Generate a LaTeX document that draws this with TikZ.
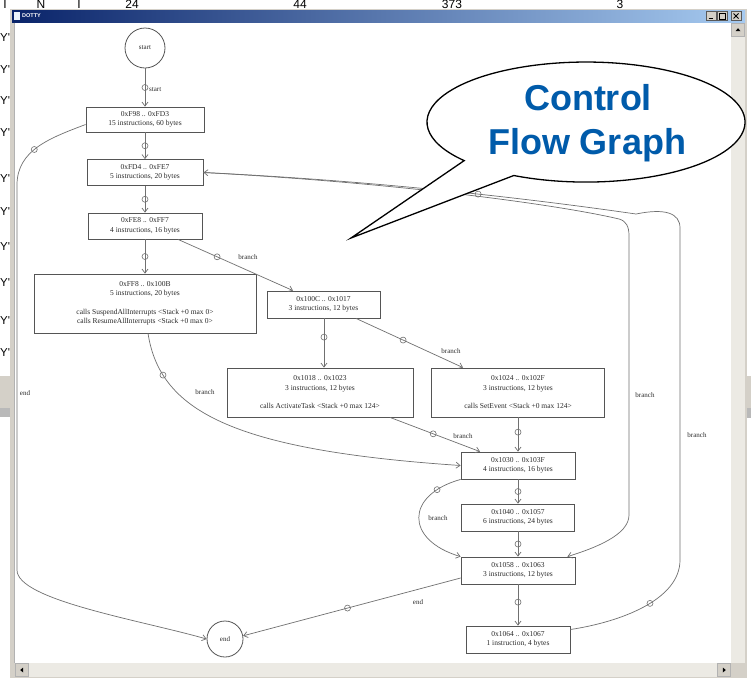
\documentclass[tikz,border=0pt]{standalone}
\usepackage{fontspec}
\setmainfont{Liberation Serif}
\newfontfamily\arialfont{Liberation Sans}
\usetikzlibrary{arrows.meta,shapes.geometric}
\definecolor{edgec}{HTML}{707070}
\definecolor{boxc}{HTML}{555555}
\definecolor{txtc}{HTML}{2A2A2A}
\definecolor{cfgblue}{HTML}{005BAA}
\definecolor{winbg}{HTML}{D4D0C8}
\definecolor{scrollc}{HTML}{ECEAE4}
\definecolor{tbdark}{HTML}{0A246A}
\definecolor{tblight}{HTML}{A6CAF0}
\tikzset{
  blk/.style={draw=boxc, line width=0.8pt, rectangle, inner sep=0pt, align=center, text=txtc, font=\fontsize{7.5}{9.5}\selectfont},
  circ/.style={draw=boxc, line width=0.8pt, circle, inner sep=0pt, text=txtc, font=\fontsize{7}{8}\selectfont},
  cfe/.style={draw=edgec, line width=0.7pt, -{Straight Barb[length=4pt,width=6pt]}},
  mk/.style={draw=edgec, line width=0.6pt, circle, inner sep=0pt, minimum size=6pt},
  lbl/.style={text=txtc, font=\fontsize{7}{8}\selectfont, inner sep=0pt},
  behind/.style={font=\arialfont\fontsize{12}{12}\selectfont, inner sep=0pt, anchor=base},
  ymark/.style={font=\arialfont\fontsize{11.5}{12}\selectfont, inner sep=0pt, anchor=base west},
}
\begin{document}
\begin{tikzpicture}[x=1pt,y=-1pt]
\useasboundingbox (0,0) rectangle (751,678);
\fill[white] (0,0) rectangle (751,678);
% --- slide content behind the window ---
\node[behind] (tA) at (5,8.8) {I};
\node[behind] (tB) at (41,8.8) {N};
\node[behind] (tC) at (79,8.8) {I};
\node[behind] (tD) at (132,8.8) {24};
\node[behind] (tE) at (300,8.8) {44};
\node[behind] (tF) at (452,8.8) {373};
\node[behind] (tG) at (620,8.8) {3};
\foreach \yy [count=\i] in {41,73,104,136,182,215,250,286,324,356}{
  \node[ymark] (y\i) at (0,\yy) {Y'};
}
\fill[winbg] (0,376) rectangle (10,417);
\fill[gray!55] (0,408) rectangle (10,417);
\fill[winbg] (746,376) rectangle (751,418);
\fill[gray!55] (746,408) rectangle (751,418);
% --- window ---
\fill[winbg] (10,9) rectangle (747,678);
\shade[left color=tbdark, right color=tblight] (12,10) rectangle (745,22);
\fill[white!80!tblight] (13.5,11.5) rectangle (20,19.5);
\node[font=\arialfont\bfseries\fontsize{5.5}{6}\selectfont, text=white, anchor=west, inner sep=0pt] (ttl) at (22,16) {DOTTY};
\foreach \bx/\bn in {706/bmin,717/bmax,731/bcls}{
  \node[draw=gray!70!black, fill=winbg, minimum width=10pt, minimum height=9pt, inner sep=0pt] (\bn) at (\bx+5,16) {};
}
\draw[line width=1pt] ([xshift=-2.5pt,yshift=-2pt]bmin.center) -- ([xshift=1.5pt,yshift=-2pt]bmin.center);
\draw[line width=0.6pt] ([xshift=-3pt,yshift=-3pt]bmax.center) rectangle ([xshift=3pt,yshift=2.5pt]bmax.center);
\draw[line width=0.9pt] ([xshift=-2.5pt,yshift=-2.5pt]bcls.center) -- ([xshift=2.5pt,yshift=2.5pt]bcls.center)
  ([xshift=-2.5pt,yshift=2.5pt]bcls.center) -- ([xshift=2.5pt,yshift=-2.5pt]bcls.center);
\fill[white] (15,23) rectangle (731,663);
\draw[gray!60, line width=0.6pt] (14.5,22.5) -- (14.5,663);
\fill[scrollc] (731,23) rectangle (745,663);
\fill[scrollc] (15,663) rectangle (731,677);
\node[draw=gray!60, fill=winbg, minimum size=13pt, inner sep=0pt] (upb) at (738,30) {};
\fill ([xshift=-2.5pt,yshift=-1.2pt]upb.center) -- ([xshift=2.5pt,yshift=-1.2pt]upb.center) -- ([yshift=1.8pt]upb.center) -- cycle;
\node[draw=gray!60, fill=winbg, minimum size=13pt, inner sep=0pt] (lfb) at (22,670) {};
\fill ([xshift=1.2pt,yshift=-2.5pt]lfb.center) -- ([xshift=1.2pt,yshift=2.5pt]lfb.center) -- ([xshift=-1.8pt]lfb.center) -- cycle;
\node[draw=gray!60, fill=winbg, minimum size=13pt, inner sep=0pt] (rtb) at (724,670) {};
\fill ([xshift=-1.2pt,yshift=-2.5pt]rtb.center) -- ([xshift=-1.2pt,yshift=2.5pt]rtb.center) -- ([xshift=1.8pt]rtb.center) -- cycle;
% --- graph nodes ---
\node[circ, minimum size=40pt] (start) at (145,48) {start};
\node[blk, minimum width=118pt, minimum height=25pt] (b1) at (145,119.5) {0xF98 .. 0xFD3\\15 instructions, 60 bytes};
\node[blk, minimum width=116pt, minimum height=26pt] (b2) at (145,172.5) {0xFD4 .. 0xFE7\\5 instructions, 20 bytes};
\node[blk, minimum width=114pt, minimum height=26pt] (b3) at (145,226) {0xFE8 .. 0xFF7\\4 instructions, 16 bytes};
\node[blk, minimum width=222pt, minimum height=59pt] (b4) at (145,303.5) {0xFF8 .. 0x100B\\5 instructions, 20 bytes\\[9pt]calls SuspendAllInterrupts <Stack +0 max 0>\\calls ResumeAllInterrupts <Stack +0 max 0>};
\node[blk, minimum width=113pt, minimum height=27pt] (b5) at (323.5,304.5) {0x100C .. 0x1017\\3 instructions, 12 bytes};
\node[blk, minimum width=186pt, minimum height=49pt] (b6) at (320,392.5) {0x1018 .. 0x1023\\3 instructions, 12 bytes\\[9pt]calls ActivateTask <Stack +0 max 124>};
\node[blk, minimum width=173pt, minimum height=49pt] (b7) at (518,392.5) {0x1024 .. 0x102F\\3 instructions, 12 bytes\\[9pt]calls SetEvent <Stack +0 max 124>};
\node[blk, minimum width=114pt, minimum height=27pt] (b8) at (518,465.5) {0x1030 .. 0x103F\\4 instructions, 16 bytes};
\node[blk, minimum width=113pt, minimum height=27pt] (b9) at (518,517.5) {0x1040 .. 0x1057\\6 instructions, 24 bytes};
\node[blk, minimum width=114pt, minimum height=27pt] (b10) at (518,570.5) {0x1058 .. 0x1063\\3 instructions, 12 bytes};
\node[blk, minimum width=104pt, minimum height=27pt] (b11) at (518,639.5) {0x1064 .. 0x1067\\1 instruction, 4 bytes};
\node[circ, minimum size=36pt] (end) at (225,639) {end};
% --- edges ---
\draw[cfe] (start) -- (b1) node[mk,pos=.5] (m1) {};
\node[lbl, anchor=west] (l1) at (149,90) {start};
\draw[cfe] (b1) -- (b2) node[mk,pos=.5] (m2) {};
\draw[cfe] (b2) -- (b3) node[mk,pos=.5] (m3) {};
\draw[cfe] (b3) -- (b4) node[mk,pos=.5] (m4) {};
\draw[cfe] ([xshift=33pt]b3.south) -- ([xshift=-30.5pt]b5.north) node[mk,pos=.34] (m5) {};
\node[lbl] (l5) at (248,257) {branch};
\draw[cfe] ([xshift=0.5pt]b5.south) -- ([xshift=0.5pt]b5.south |- b6.north) node[mk,pos=.38] (m6) {};
\draw[cfe] ([xshift=32.5pt]b5.south) -- ([xshift=-55pt]b7.north) node[mk,pos=.44] (m7) {};
\node[lbl] (l7) at (451,351) {branch};
\draw[cfe] ([xshift=70pt]b6.south) -- ([xshift=-38pt]b8.north) node[mk,pos=.48] (m8) {};
\node[lbl] (l8) at (463,436) {branch};
\draw[cfe] (b7) -- (b8) node[mk,pos=.43] (m9) {};
\draw[cfe] ([xshift=3pt]b4.south) .. controls (160,410) and (230,450) .. (b8.west) node[mk,pos=.2] (m10) {};
\node[lbl] (l10) at (205,392) {branch};
\draw[cfe] (b8) -- (b9) node[mk,pos=.5] (m11) {};
\draw[cfe] (b8.south west) .. controls (405,495) and (405,540) .. (b10.north west) node[mk,pos=.17] (m12) {};
\node[lbl] (l12) at (438,518) {branch};
\draw[cfe] (b9) -- (b10) node[mk,pos=.5] (m13) {};
\draw[cfe] (b2.east) .. controls (400,183) and (560,205) .. (619,219) .. controls (626,221) and (629,226) .. (629,236) -- (629,515) .. controls (629,535) and (595,548) .. ([xshift=-8pt]b10.north east);
\node[lbl] (l14) at (645,395) {branch};
\draw[cfe] ([yshift=10pt]b11.east) .. controls (620,622) and (680,600) .. (680,560) node[mk,pos=.55] (m15) {} -- (680,228) .. controls (680,213) and (665,208) .. (636,214) .. controls (560,203) and (400,182) .. (b2.east) node[mk,pos=.47] (m15b) {};
\node[lbl] (l15) at (697,435) {branch};
\draw[cfe] ([yshift=-5pt]b1.west) .. controls (50,138) and (17,150) .. (17,185) node[mk,pos=.55] (m16) {} -- (17,570) .. controls (17,600) and (140,620) .. (end.west);
\node[lbl] (l16) at (25,393) {end};
\draw[cfe] ([yshift=-7.5pt]b10.west) -- (end.10) node[mk,pos=.52] (m17) {};
\node[lbl] (l17) at (418,602) {end};
\draw[cfe] (b10) -- (b11) node[mk,pos=.43] (m18) {};
% --- callout ---
\path[fill=white, draw=black, line width=1.3pt, line join=miter] (513.8,175.5) arc[start angle=243, end angle=580, x radius=159pt, y radius=60pt] -- (351,238) -- cycle;
\node[font=\arialfont\bfseries\fontsize{36}{44}\selectfont, text=cfgblue, anchor=base, inner sep=0pt] (cf1) at (588,110) {Control};
\node[font=\arialfont\bfseries\fontsize{36}{44}\selectfont, text=cfgblue, anchor=base, inner sep=0pt] (cf2) at (587,154) {Flow Graph};
\end{tikzpicture}
\end{document}
